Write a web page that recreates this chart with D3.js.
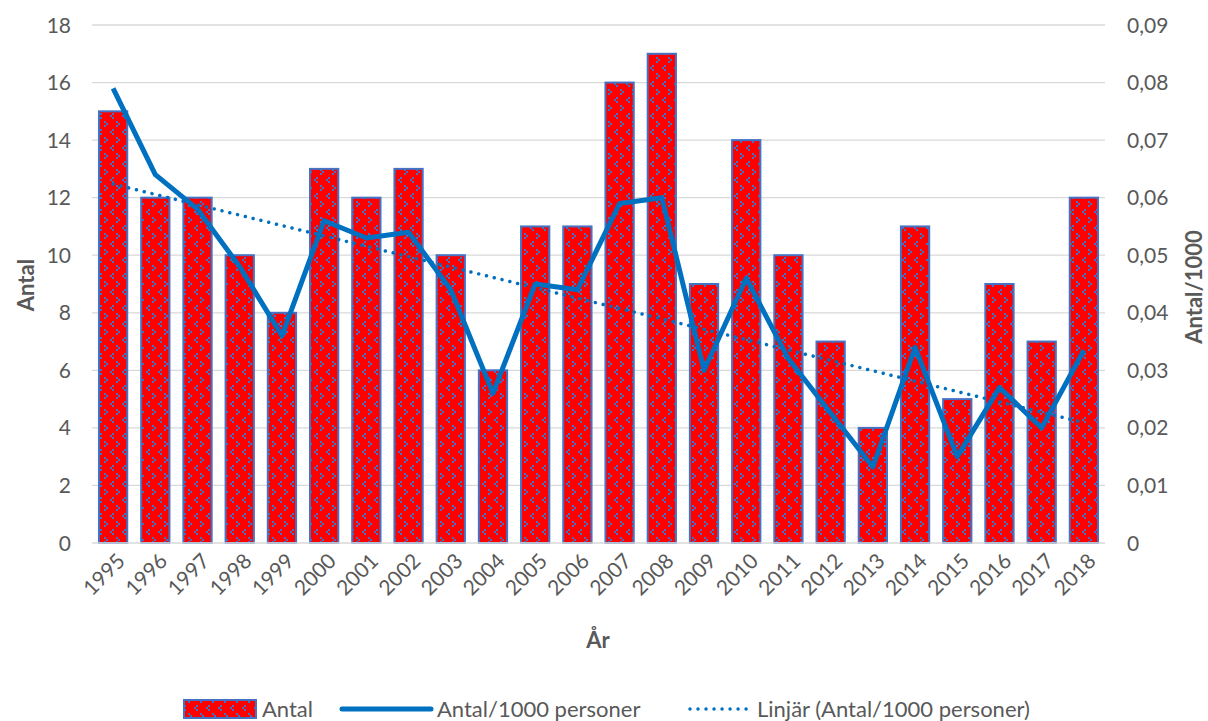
<!DOCTYPE html>
<html>
<head>
<meta charset="utf-8">
<script src="https://cdn.jsdelivr.net/npm/d3@7"></script>
<style>
  html, body { margin: 0; padding: 0; background: #fff; }
  svg { display: block; font-family: Lato, "Open Sans", sans-serif; }
</style>
</head>
<body>
<svg id="chart" width="1208" height="721"></svg>
<script>
// Yearly counts and counts per 1000 persons
const years = ["1995","1996","1997","1998","1999","2000","2001","2002","2003","2004","2005","2006",
               "2007","2008","2009","2010","2011","2012","2013","2014","2015","2016","2017","2018"];
const antal = [15,12,12,10,8,13,12,13,10,6,11,11,16,17,9,14,10,7,4,11,5,9,7,12];
const perThousand = [0.079,0.064,0.058,0.048,0.036,0.056,0.053,0.054,0.044,0.026,0.045,0.044,
                     0.059,0.060,0.030,0.046,0.032,0.0226,0.0132,0.034,0.015,0.027,0.020,0.0335];
const leftTicks = [0,2,4,6,8,10,12,14,16,18];
const rightTicks = [0,0.01,0.02,0.03,0.04,0.05,0.06,0.07,0.08,0.09];

const svg = d3.select("#chart");
const m = { left: 92, right: 1105, top: 25, bottom: 543 };

const blue = "#0070C0";
const barEdge = "#4472C4";
const grid = "#d9d9d9";
const textCol = "#595959";

const x = d3.scaleBand().domain(years).range([m.left, m.right]).paddingInner(0.33).paddingOuter(0.165);
const yL = d3.scaleLinear().domain([0, 18]).range([m.bottom, m.top]);
const yR = d3.scaleLinear().domain([0, 0.09]).range([m.bottom, m.top]);

// Dotted fill for the bars: red ground with small blue chevrons
const defs = svg.append("defs");
const pat = defs.append("pattern").attr("id", "redDots")
  .attr("patternUnits", "userSpaceOnUse").attr("width", 12).attr("height", 16);
pat.append("rect").attr("width", 12).attr("height", 16).attr("fill", "#ff0000");
[[4,1],[2,3],[4,5],[8,9],[10,11],[8,13]].forEach(([px, py]) => {
  pat.append("rect").attr("x", px).attr("y", py).attr("width", 2).attr("height", 2).attr("fill", barEdge);
});

// Gridlines
svg.append("g").selectAll("line").data(leftTicks.filter(d => d > 0)).join("line")
  .attr("x1", m.left).attr("x2", m.right)
  .attr("y1", d => yL(d)).attr("y2", d => yL(d))
  .attr("stroke", grid).attr("stroke-width", 1.3);

// Left axis labels
svg.append("g").selectAll("text").data(leftTicks).join("text")
  .attr("x", 71).attr("y", d => yL(d)).attr("dy", "0.36em")
  .attr("text-anchor", "end").attr("fill", textCol).attr("font-size", 21)
  .text(d => d);

// Right axis labels
const fmtR = d => d === 0 ? "0" : d3.format(".2f")(d).replace(".", ",");
svg.append("g").selectAll("text").data(rightTicks).join("text")
  .attr("x", 1127).attr("y", d => yR(d)).attr("dy", "0.36em")
  .attr("text-anchor", "start").attr("fill", textCol).attr("font-size", 21)
  .text(fmtR);

// Bars
svg.append("g").selectAll("rect").data(antal).join("rect")
  .attr("x", (d, i) => x(years[i]))
  .attr("width", x.bandwidth())
  .attr("y", d => yL(d))
  .attr("height", d => yL(0) - yL(d))
  .attr("fill", "url(#redDots)")
  .attr("stroke", barEdge).attr("stroke-width", 2);

// Baseline
svg.append("line").attr("x1", m.left).attr("x2", m.right)
  .attr("y1", m.bottom).attr("y2", m.bottom)
  .attr("stroke", grid).attr("stroke-width", 1.6);

// X labels, rotated
svg.append("g").selectAll("text").data(years).join("text")
  .attr("transform", d => `translate(${x(d) + x.bandwidth() / 2 + 8},${m.bottom + 14}) rotate(-45)`)
  .attr("text-anchor", "end").attr("dy", "0.36em")
  .attr("fill", textCol).attr("font-size", 21)
  .text(d => d);

// Per-thousand line
const cx = i => x(years[i]) + x.bandwidth() / 2;
const line = d3.line().x((d, i) => cx(i)).y(d => yR(d));
svg.append("path").datum(perThousand)
  .attr("d", line).attr("fill", "none")
  .attr("stroke", blue).attr("stroke-width", 5).attr("stroke-linejoin", "round");

// Linear least-squares trend of the per-thousand series
const n = perThousand.length;
const xs = d3.range(1, n + 1);
const mx = d3.mean(xs), my = d3.mean(perThousand);
const slope = d3.sum(xs, (v, i) => (v - mx) * (perThousand[i] - my)) / d3.sum(xs, v => (v - mx) ** 2);
const icpt = my - slope * mx;
const trend = xs.map(v => icpt + slope * v);
svg.append("path").datum(trend)
  .attr("d", line).attr("fill", "none")
  .attr("stroke", blue).attr("stroke-width", 3.5)
  .attr("stroke-linecap", "round").attr("stroke-dasharray", "0.01 8");

// Axis titles
svg.append("text").attr("transform", "translate(34,285) rotate(-90)")
  .attr("text-anchor", "middle").attr("font-weight", "bold").attr("font-size", 22)
  .attr("fill", textCol).text("Antal");
svg.append("text").attr("transform", "translate(1202,287) rotate(-90)")
  .attr("text-anchor", "middle").attr("font-weight", "bold").attr("font-size", 22)
  .attr("fill", textCol).text("Antal/1000");
svg.append("text").attr("x", 598).attr("y", 648)
  .attr("text-anchor", "middle").attr("font-weight", "bold").attr("font-size", 22)
  .attr("fill", textCol).text("År");

// Legend
const lg = svg.append("g");
const ly = 709;
lg.append("rect").attr("x", 184).attr("y", ly - 9).attr("width", 72).attr("height", 18)
  .attr("fill", "url(#redDots)").attr("stroke", barEdge).attr("stroke-width", 2);
lg.append("text").attr("x", 262).attr("y", ly).attr("dy", "0.36em")
  .attr("font-size", 22).attr("fill", textCol).text("Antal");
lg.append("line").attr("x1", 342).attr("x2", 431).attr("y1", ly).attr("y2", ly)
  .attr("stroke", blue).attr("stroke-width", 5).attr("stroke-linecap", "round");
lg.append("text").attr("x", 437).attr("y", ly).attr("dy", "0.36em")
  .attr("font-size", 22).attr("fill", textCol).text("Antal/1000 personer");
lg.append("line").attr("x1", 690).attr("x2", 750).attr("y1", ly).attr("y2", ly)
  .attr("stroke", blue).attr("stroke-width", 3.5)
  .attr("stroke-linecap", "round").attr("stroke-dasharray", "0.01 8");
lg.append("text").attr("x", 757).attr("y", ly).attr("dy", "0.36em")
  .attr("font-size", 22).attr("fill", textCol).text("Linjär (Antal/1000 personer)");
</script>
</body>
</html>
